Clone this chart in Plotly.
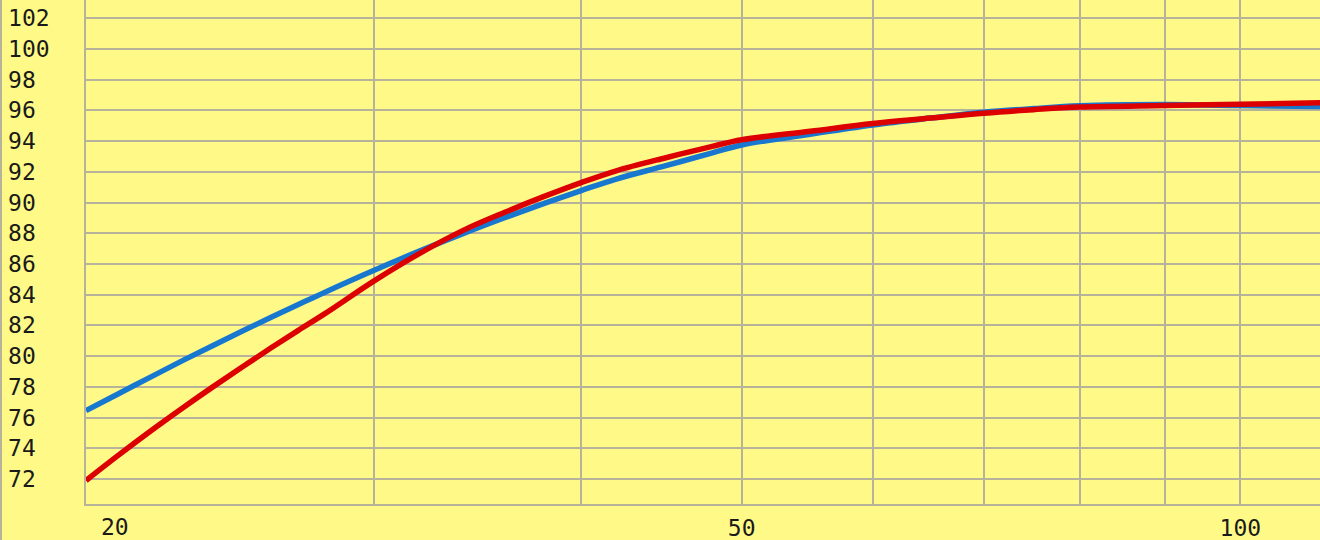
import math
import plotly.graph_objects as go

# x positions (log axis) and the two curves
x_vals = [20.1, 21, 22, 23, 24, 25, 26, 27, 28, 30, 32, 34, 36, 38, 40, 42, 45, 48,
          50, 55, 60, 65, 70, 75, 80, 90, 100, 111.7]
blue_vals = [76.45, 77.52, 78.65, 79.72, 80.71, 81.65, 82.53, 83.36, 84.15, 85.59, 86.87, 88.01,
             89.03, 89.95, 90.78, 91.53, 92.4, 93.24, 93.75, 94.45, 95.05, 95.5, 95.88, 96.12,
             96.3, 96.38, 96.32, 96.25]
red_vals = [71.9, 73.5, 75.14, 76.64, 78.03, 79.32, 80.54, 81.68, 82.75, 84.9, 86.72, 88.22,
            89.38, 90.4, 91.3, 92.07, 92.92, 93.66, 94.09, 94.64, 95.15, 95.5, 95.82, 96.05,
            96.22, 96.32, 96.4, 96.5]

x_grid = [20, 30, 40, 50, 60, 70, 80, 90, 100]
x_text = ["", "", "", "50", "", "", "", "", "100"]
y_ticks = list(range(72, 104, 2))
# pad short labels so the monospace labels line up on the left
y_text = [str(v) if v >= 100 else str(v) + "\u00a0" for v in y_ticks]

bg = "#FFFA88"
grid = "#B7B39B"
font = dict(family="DejaVu Sans Mono", size=23, color="#1a1a1a")

fig = go.Figure()
fig.add_trace(go.Scatter(x=x_vals, y=blue_vals, mode="lines",
                         line=dict(color="#1878D0", width=5.5, shape="spline"),
                         hoverinfo="skip"))
fig.add_trace(go.Scatter(x=x_vals, y=red_vals, mode="lines",
                         line=dict(color="#DD0000", width=5.5, shape="spline"),
                         hoverinfo="skip"))

fig.update_xaxes(type="log", range=[math.log10(20.1), math.log10(111.7)],
                 tickvals=x_grid, ticktext=x_text, showgrid=True, gridcolor=grid, gridwidth=1.6,
                 showline=True, linecolor=grid, linewidth=1.6, zeroline=False,
                 ticks="", ticklabelstandoff=3, tickfont=font, automargin=False)
fig.update_yaxes(range=[70.37, 103.19], tickvals=y_ticks, ticktext=y_text,
                 showgrid=True, gridcolor=grid, gridwidth=1.6,
                 showline=True, linecolor=grid, linewidth=1.6, zeroline=False,
                 ticks="", ticklabelstandoff=30, tickfont=font, automargin=False)

# the "20" label sits right of the axis edge in the original
fig.add_annotation(x=0, y=0, xref="paper", yref="paper", text="20",
                   showarrow=False, xanchor="center", yanchor="top", xshift=29, yshift=-8,
                   font=font)

fig.add_shape(type="line", xref="paper", yref="paper", x0=-85 / 1234, x1=-85 / 1234,
              y0=-36 / 504, y1=1, line=dict(color=grid, width=2))

fig.update_layout(width=1320, height=540, margin=dict(l=86, r=0, t=0, b=36),
                  paper_bgcolor=bg, plot_bgcolor=bg, showlegend=False)

# drop the page's default body margin so the chart sits at the window corner
fig.write_html("out.html", config={"displayModeBar": False},
               post_script="document.body.style.margin='0px';")
